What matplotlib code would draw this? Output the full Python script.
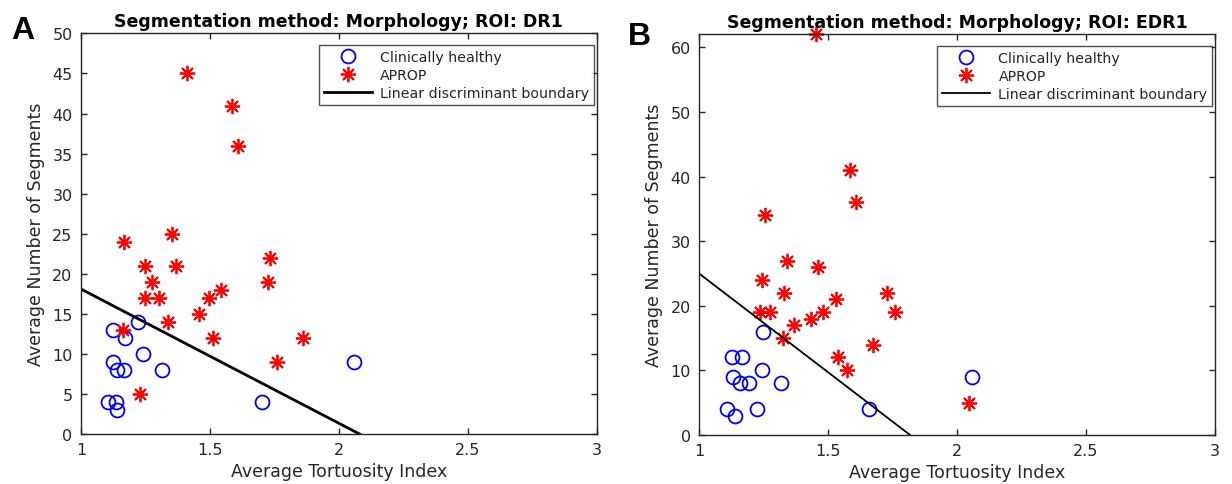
import numpy as np
import matplotlib.pyplot as plt

plt.switch_backend("Agg")
plt.rcParams["font.family"] = ["DejaVu Sans"]

# --- panel A: ROI DR1 ---
dr1_healthy_x = [1.125, 1.22, 1.17, 1.24, 1.125, 1.14, 1.166, 1.313, 1.106, 1.134, 1.14, 1.70, 2.057]
dr1_healthy_y = [13, 14, 12, 10, 9, 8, 8, 8, 4, 4, 3, 4, 9]
dr1_aprop_x = [1.413, 1.584, 1.609, 1.354, 1.166, 1.249, 1.368, 1.732, 1.277, 1.726, 1.248,
               1.302, 1.496, 1.541, 1.458, 1.336, 1.163, 1.512, 1.861, 1.759, 1.228]
dr1_aprop_y = [45, 41, 36, 25, 24, 21, 21, 22, 19, 19, 17, 17, 17, 18, 15, 14, 13, 12, 12, 9, 5]
dr1_boundary_x = [1.0, 2.08]
dr1_boundary_y = [18.1, 0.0]

# --- panel B: ROI EDR1 ---
edr1_healthy_x = [1.249, 1.126, 1.167, 1.245, 1.132, 1.158, 1.194, 1.318, 1.108, 1.224, 1.139, 1.657, 2.057]
edr1_healthy_y = [16, 12, 12, 10, 9, 8, 8, 8, 4, 4, 3, 4, 9]
edr1_aprop_x = [1.453, 1.587, 1.607, 1.255, 1.340, 1.463, 1.243, 1.331, 1.730, 1.532, 1.236,
                1.274, 1.482, 1.760, 1.434, 1.367, 1.326, 1.676, 1.538, 1.572, 2.047]
edr1_aprop_y = [62, 41, 36, 34, 27, 26, 24, 22, 22, 21, 19, 19, 19, 19, 18, 17, 15, 14, 12, 10, 5]
edr1_boundary_x = [1.0, 1.818]
edr1_boundary_y = [25.0, 0.0]

panels = [
    ("A", "Segmentation method: Morphology; ROI: DR1", dr1_healthy_x, dr1_healthy_y,
     dr1_aprop_x, dr1_aprop_y, dr1_boundary_x, dr1_boundary_y, 50, np.arange(0, 51, 5), 2.0),
    ("B", "Segmentation method: Morphology; ROI: EDR1", edr1_healthy_x, edr1_healthy_y,
     edr1_aprop_x, edr1_aprop_y, edr1_boundary_x, edr1_boundary_y, 62, np.arange(0, 61, 10), 1.3),
]

fig = plt.figure(figsize=(12.32, 4.85), dpi=100)
ax_rects = [[0.0657, 0.103, 0.4188, 0.826], [0.5674, 0.101, 0.4188, 0.826]]
letter_pos = [(0.009, 0.968), (0.510, 0.955)]
ink = "#262626"

for rect, lpos, (letter, title, hx, hy, ax_, ay, bx, by, ytop, yticks, lw) in zip(
        ax_rects, letter_pos, panels):
    ax = fig.add_axes(rect)
    ax.plot(hx, hy, "o", ms=10, mfc="none", mec="#0000ff", mew=1.3, ls="none",
            label="Clinically healthy")
    ax.plot(ax_, ay, marker=(8, 2, 0), ms=11, color="#ff0000", mew=1.3, ls="none",
            label="APROP", clip_on=False)
    ax.plot(bx, by, "-", color="black", lw=lw, label="Linear discriminant boundary")
    ax.set_xlim(1, 3)
    ax.set_ylim(0, ytop)
    ax.set_xticks([1, 1.5, 2, 2.5, 3])
    ax.set_xticklabels(["1", "1.5", "2", "2.5", "3"])
    ax.set_yticks(yticks)
    ax.tick_params(direction="in", top=True, right=True, length=4, width=1,
                   labelsize=11.5, colors=ink, labelcolor=ink, pad=6)
    for s in ax.spines.values():
        s.set_color(ink)
        s.set_linewidth(1)
    ax.set_xlabel("Average Tortuosity Index", fontsize=12.5, color=ink, labelpad=3)
    ax.set_ylabel("Average Number of Segments", fontsize=12.5, color=ink, labelpad=5)
    ax.set_title(title, fontsize=12.5, fontweight="bold", pad=5)
    leg = ax.legend(loc="upper right", bbox_to_anchor=(0.995, 0.972), fontsize=10.2,
                    frameon=True, fancybox=False, borderpad=0.35, labelspacing=0.3,
                    handlelength=3.4, handletextpad=0.6, borderaxespad=0, numpoints=1)
    leg.get_frame().set_edgecolor(ink)
    leg.get_frame().set_linewidth(1)
    for t in leg.get_texts():
        t.set_color(ink)
    fig.text(lpos[0], lpos[1], letter, fontsize=23, fontweight="bold",
             family=["Liberation Sans", "DejaVu Sans"], ha="left", va="top")

fig.savefig("out.png", dpi=100)
